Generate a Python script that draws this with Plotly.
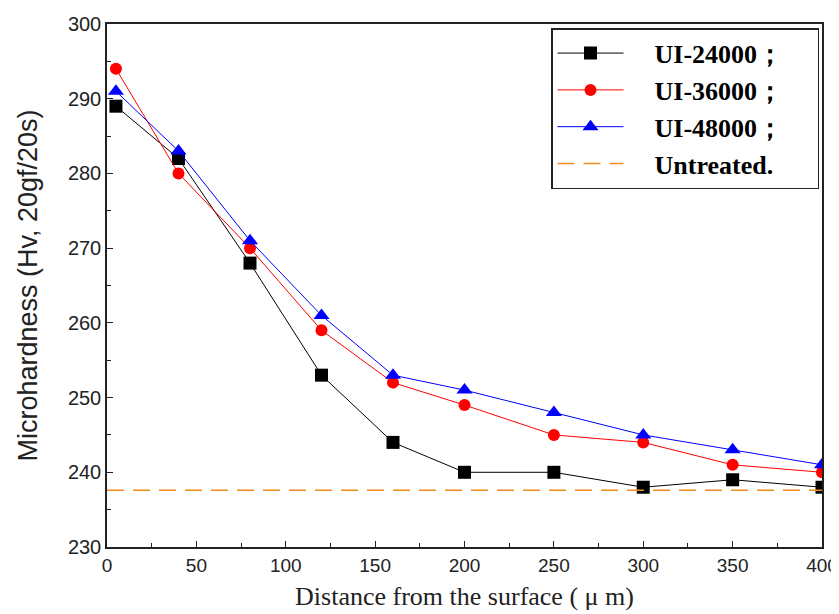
import plotly.graph_objects as go

distance = [5, 40, 80, 120, 160, 200, 250, 300, 350, 400]
ui_24000 = [289, 282, 268, 253, 244, 240, 240, 238, 239, 238]
ui_36000 = [294, 280, 270, 259, 252, 249, 245, 244, 241, 240]
ui_48000 = [291, 283, 271, 261, 253, 251, 248, 245, 243, 241]
untreated_x = [0, 400]
untreated_y = [237.6, 237.6]

pad = "\u00a0" * 4
names = [pad + "UI-24000\uff1b", pad + "UI-36000\uff1b", pad + "UI-48000\uff1b",
         pad + "Untreated." + "\u00a0" * 6]

fig = go.Figure()
fig.add_trace(go.Scatter(x=distance, y=ui_24000, mode="lines+markers", name=names[0],
                         line=dict(color="black", width=1),
                         marker=dict(symbol="square", size=13, color="black")))
fig.add_trace(go.Scatter(x=distance, y=ui_36000, mode="lines+markers", name=names[1],
                         line=dict(color="#ff0000", width=1),
                         marker=dict(symbol="circle", size=12, color="#ff0000")))
fig.add_trace(go.Scatter(x=distance, y=ui_48000, mode="lines+markers", name=names[2],
                         line=dict(color="#0000ff", width=1),
                         marker=dict(symbol="triangle-up", size=14, color="#0000ff")))
fig.add_trace(go.Scatter(x=untreated_x, y=untreated_y, mode="lines", name=names[3],
                         line=dict(color="#f28a1e", width=1.5, dash="17px,9px")))

axis_common = dict(showline=True, linecolor="#222", linewidth=1.5, mirror=True,
                   showgrid=False, zeroline=False, ticks="inside", ticklen=6,
                   tickcolor="#222")

fig.update_xaxes(range=[0, 400], dtick=50,
                 tickfont=dict(family="Liberation Sans, Arial", size=19, color="#222"),
                 title=dict(text="Distance from the surface ( \u03bc m)",
                            font=dict(family="Liberation Serif, Times New Roman", size=26, color="#222"), standoff=12),
                 minor=dict(ticks="inside", ticklen=4, dtick=25, tickcolor="#222"), **axis_common)
fig.update_yaxes(range=[230, 300], dtick=10,
                 tickfont=dict(family="Liberation Sans, Arial", size=20, color="#222"),
                 title=dict(text="Microhardness (Hv, 20gf/20s)",
                            font=dict(family="Liberation Sans, Arial", size=27, color="#222"), standoff=22),
                 minor=dict(ticks="inside", ticklen=4, dtick=5, tickcolor="#222"), **axis_common)

fig.update_layout(
    width=831, height=606,
    margin=dict(l=99, r=17, t=16, b=67, autoexpand=False),
    plot_bgcolor="white", paper_bgcolor="white",
    legend=dict(x=0.621, y=0.992, xanchor="left", yanchor="top",
                bordercolor="#222", borderwidth=1.5, bgcolor="white",
                font=dict(family="Liberation Serif, Times New Roman", size=26, color="black", weight="bold"),
                itemwidth=66, tracegroupgap=0),
    showlegend=True,
)

fig.write_html("out.html")
